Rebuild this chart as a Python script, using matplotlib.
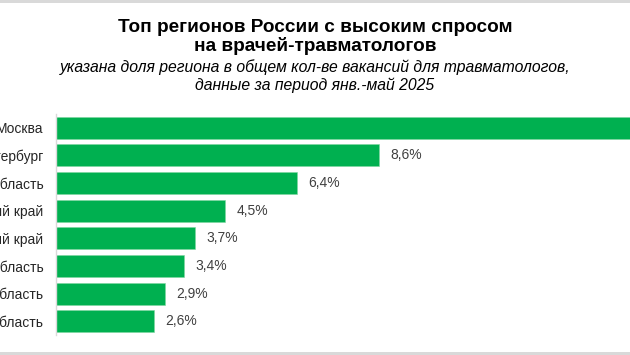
import matplotlib
matplotlib.use("Agg")
import matplotlib.pyplot as plt
from matplotlib.patches import Rectangle

plt.rcParams['font.family'] = ['Liberation Sans', 'DejaVu Sans']

regions = ["Москва", "Санкт-Петербург", "Московская область", "Краснодарский край",
           "Красноярский край", "Свердловская область", "Новосибирская область",
           "Нижегородская область"]
shares = [17.2, 8.6, 6.4, 4.5, 3.7, 3.4, 2.9, 2.6]
labels = ["17,2%", "8,6%", "6,4%", "4,5%", "3,7%", "3,4%", "2,9%", "2,6%"]

W, H = 630, 355
fig = plt.figure(figsize=(6.3, 3.55), dpi=100)
fig.patch.set_facecolor("white")

# thin gray bands at the top and bottom edges
fig.patches.append(Rectangle((0, 1 - 3 / H), 1, 3 / H, transform=fig.transFigure,
                             facecolor="#d9d9d9", edgecolor="none"))
fig.patches.append(Rectangle((0, 0), 1, 3 / H, transform=fig.transFigure,
                             facecolor="#d9d9d9", edgecolor="none"))

left_px, right_px = 56, 630
top_px, bot_px = 114, 335
ax = fig.add_axes([left_px / W, 1 - bot_px / H, (right_px - left_px) / W, (bot_px - top_px) / H])

y = list(range(len(regions)))
ax.barh(y, shares, height=0.8, color="#00B050", edgecolor="#7fd6a0", linewidth=0.4)
ax.set_xlim(0, (right_px - left_px) / 37.6)
ax.set_ylim(len(regions) - 0.5, -0.5)

ax.set_yticks(y)
ax.set_yticklabels(regions, fontsize=10, color="#262626")
ax.tick_params(axis="y", length=0, pad=9)
ax.set_xticks([])
for s in ["top", "right", "bottom"]:
    ax.spines[s].set_visible(False)
ax.spines["left"].set_color("#d9d9d9")
ax.spines["left"].set_linewidth(1)

for yi, v, lab in zip(y, shares, labels):
    ax.annotate(lab, (v, yi), xytext=(8, 0), textcoords="offset points",
                va="center", ha="left", fontsize=10, color="#404040",
                annotation_clip=False)

fig.text(0.5, 1 - 27 / H, "Топ регионов России с высоким спросом", ha="center", va="center",
         fontsize=13.7, fontweight="bold", color="black")
fig.text(0.5, 1 - 46 / H, "на врачей-травматологов", ha="center", va="center",
         fontsize=13.7, fontweight="bold", color="black")
fig.text(0.5, 1 - 67 / H, "указана доля региона в общем кол-ве вакансий для травматологов,",
         ha="center", va="center", fontsize=11.3, style="italic", color="black")
fig.text(0.5, 1 - 85 / H, "данные за период янв.-май 2025",
         ha="center", va="center", fontsize=11.3, style="italic", color="black")

fig.savefig("out.png", dpi=100)
